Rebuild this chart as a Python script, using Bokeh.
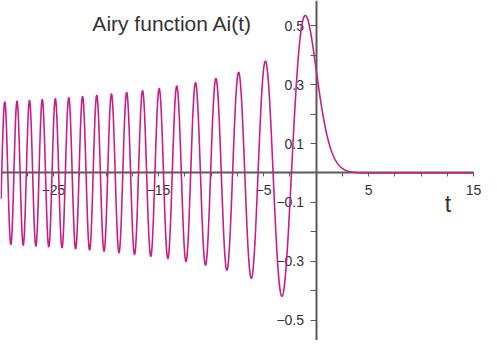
import numpy as np
from bokeh.plotting import figure
from bokeh.models import LinearAxis, FixedTicker, Label, Range1d, ColumnDataSource
from bokeh.embed import file_html
from bokeh.resources import INLINE

# ---- data: the Airy function Ai(t) on the plotted interval ----
T_LO, T_HI = -30.0, 15.0
AI_0 = 0.355028053887817      # Ai(0)
AIP_0 = -0.258819403792807    # Ai'(0)

x_major = [-25, -15, -5, 5, 15]
x_minor = [-30, -27.5, -22.5, -20, -17.5, -12.5, -10, -7.5, -2.5, 0, 2.5, 7.5, 10, 12.5]
y_major = [0.5, 0.3, 0.1, -0.1, -0.3, -0.5]
y_minor = [0.6, 0.4, 0.2, 0.0, -0.2, -0.4, -0.6]


def _rk4(h, n):
    y, v, t = AI_0, AIP_0, 0.0
    out = [y]
    for _ in range(n):
        k1y, k1v = v, t * y
        k2y, k2v = v + 0.5 * h * k1v, (t + 0.5 * h) * (y + 0.5 * h * k1y)
        k3y, k3v = v + 0.5 * h * k2v, (t + 0.5 * h) * (y + 0.5 * h * k2y)
        k4y, k4v = v + h * k3v, (t + h) * (y + h * k3y)
        y += h / 6 * (k1y + 2 * k2y + 2 * k3y + k4y)
        v += h / 6 * (k1v + 2 * k2v + 2 * k3v + k4v)
        t += h
        out.append(y)
    return out


neg = _rk4(-0.005, 6000)[::2][::-1]          # t = -30 .. 0
pos = _rk4(0.005, 1200)[::2][1:]             # t = 0.01 .. 6
t_neg = np.linspace(-30, 0, len(neg))
t_pos = np.linspace(0.01, 6, len(pos))
t_far = np.arange(6.01, 15.0001, 0.01)
z = 2.0 / 3.0 * t_far ** 1.5
ai_far = np.exp(-z) / (2 * np.sqrt(np.pi) * t_far ** 0.25)

t_values = np.concatenate([t_neg, t_pos, t_far])
ai_values = np.concatenate([neg, pos, ai_far])

# ---- figure ----
W, H = 481, 340
p = figure(width=W, height=H, output_backend="svg", toolbar_location=None,
           x_axis_type=None, y_axis_type=None,
           x_range=Range1d(-30.05, 15.76), y_range=Range1d(-0.5697, 0.5867),
           min_border_left=0, min_border_right=0, min_border_top=0, min_border_bottom=0)
p.outline_line_color = None
p.background_fill_color = "white"
p.border_fill_color = "white"

FONT = "Liberation Sans"
AX_COL = "#5a5a5a"
TXT_COL = "#333333"

xaxis = LinearAxis(fixed_location=0, bounds=(T_LO, T_HI),
                   ticker=FixedTicker(ticks=x_major, minor_ticks=x_minor))
xaxis.axis_line_color = AX_COL
xaxis.axis_line_width = 2
xaxis.major_tick_line_color = AX_COL
xaxis.minor_tick_line_color = AX_COL
xaxis.major_tick_in = 0
xaxis.major_tick_out = 4
xaxis.minor_tick_in = 0
xaxis.minor_tick_out = 4
xaxis.major_label_standoff = 8
xaxis.major_label_text_font = FONT
xaxis.major_label_text_font_size = "14px"
xaxis.major_label_text_color = TXT_COL
xaxis.level = "underlay"
p.add_layout(xaxis, "below")

yaxis = LinearAxis(fixed_location=0, bounds=(-0.6, 0.6),
                   ticker=FixedTicker(ticks=y_major, minor_ticks=y_minor))
yaxis.axis_line_color = AX_COL
yaxis.axis_line_width = 2
yaxis.major_tick_line_color = AX_COL
yaxis.minor_tick_line_color = AX_COL
yaxis.major_tick_in = 0
yaxis.major_tick_out = 6
yaxis.minor_tick_in = 0
yaxis.minor_tick_out = 6
yaxis.major_label_standoff = 6
yaxis.major_label_text_font = FONT
yaxis.major_label_text_font_size = "14px"
yaxis.major_label_text_color = TXT_COL
yaxis.level = "underlay"
p.add_layout(yaxis, "left")

src = ColumnDataSource(dict(t=t_values, ai=ai_values))
p.line("t", "ai", source=src, line_color="#C81E86", line_width=1.6)

p.add_layout(Label(x=-21.3, y=0.508, text="Airy function Ai(t)", text_font=FONT,
                   text_font_size="21px", text_color=TXT_COL, text_baseline="alphabetic"))
p.add_layout(Label(x=12.25, y=-0.107, text="t", text_font=FONT,
                   text_font_size="23px", text_color=TXT_COL, text_baseline="alphabetic"))

open("out.html", "w").write(file_html(p, INLINE))
